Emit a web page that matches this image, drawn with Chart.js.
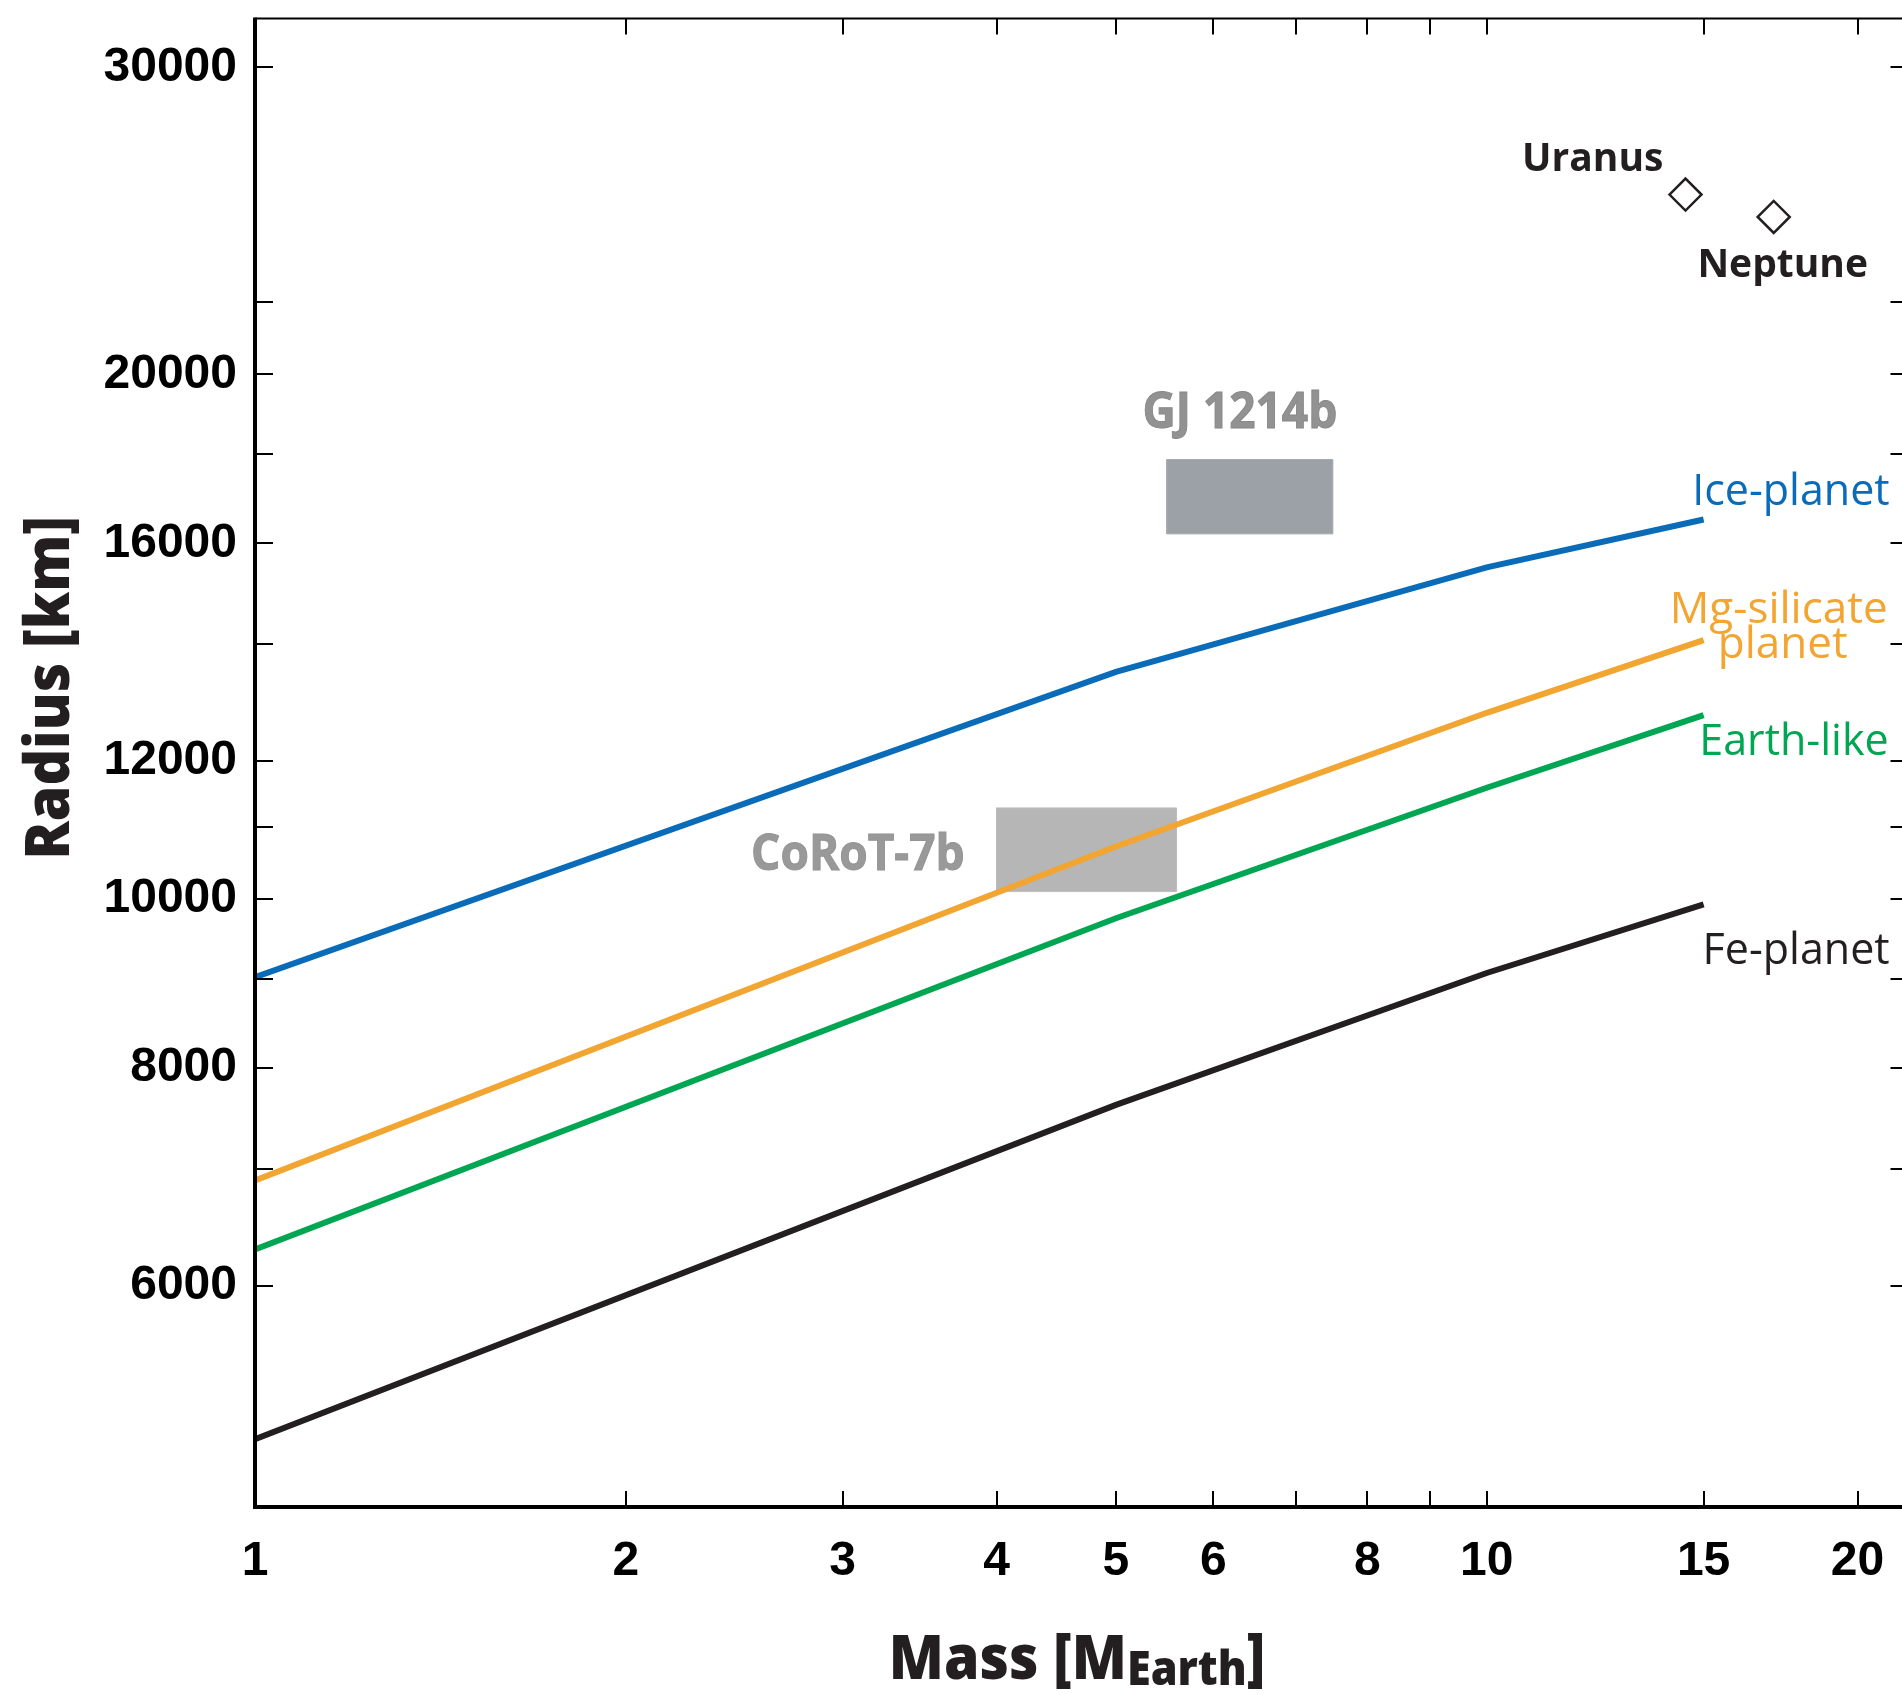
<!DOCTYPE html>
<html>
<head>
<meta charset="utf-8">
<script src="https://cdn.jsdelivr.net/npm/chart.js@4.4.1/dist/chart.umd.min.js"></script>
<style>
  html, body { margin: 0; padding: 0; background: #fff; overflow: hidden; }
  canvas { display: block; }
</style>
</head>
<body>
<canvas id="c" width="1927" height="1695"></canvas>
<script>
// Model radius (km) versus planet mass (Earth masses) for four bulk compositions
const massGrid = [1, 5, 10, 15];
const icePlanet = [9020, 13500, 15500, 16510];
const mgSilicatePlanet = [6895, 10720, 12790, 14080];
const earthLike = [6295, 9750, 11585, 12750];
const fePlanet = [4900, 7620, 9070, 9930];

// Observed exoplanets: mass range and radius range
const corot7bMass = [4.0, 5.6];
const corot7bRadius = [10100, 11280];
const gj1214bMass = [5.5, 7.5];
const gj1214bRadius = [16200, 17870];

// Solar-system ice giants
const giantNames = ['Uranus', 'Neptune'];
const giantMass = [14.5, 17.1];
const giantRadius = [25360, 24620];

// Axis ticks
const massTicks = [1, 2, 3, 4, 5, 6, 7, 8, 9, 10, 15, 20];
const massTickLabels = [1, 2, 3, 4, 5, 6, 8, 10, 15, 20];
const radiusTicks = [6000, 7000, 8000, 9000, 10000, 11000, 12000, 14000, 16000, 18000, 20000, 22000, 30000];
const radiusTickLabels = [6000, 8000, 10000, 12000, 16000, 20000, 30000];

const INK = '#231f20';
const COLORS = { ice: '#0a6bb8', mg: '#f2a531', earth: '#00a652', fe: INK };

const curve = (ys) => massGrid.map((m, i) => ({ x: m, y: ys[i] }));
const box = (mx, ry) => [
  { x: mx[0], y: ry[0] }, { x: mx[1], y: ry[0] },
  { x: mx[1], y: ry[1] }, { x: mx[0], y: ry[1] }, { x: mx[0], y: ry[0] }
];

// Draws text squeezed horizontally by factor sx
function squeezed(ctx, text, x, y, sx, align, stroke) {
  const w = ctx.measureText(text).width * sx;
  let left = x;
  if (align === 'center') left = x - w / 2;
  else if (align === 'right') left = x - w;
  ctx.save();
  ctx.translate(left, y);
  ctx.scale(sx, 1);
  ctx.textAlign = 'left';
  ctx.fillText(text, 0, 0);
  if (stroke) ctx.strokeText(text, 0, 0);
  ctx.restore();
  return w;
}

// Frame with inward-pointing tick marks on all four sides
const framePlugin = {
  id: 'frame',
  afterDatasetsDraw(chart) {
    const { ctx, chartArea: a, scales: { x, y } } = chart;
    ctx.save();
    ctx.strokeStyle = '#000';
    ctx.lineCap = 'butt';
    ctx.lineWidth = 2;
    ctx.beginPath();
    radiusTicks.forEach(v => {
      const py = Math.round(y.getPixelForValue(v));
      ctx.moveTo(a.left, py); ctx.lineTo(a.left + 18, py);
      ctx.moveTo(a.right, py); ctx.lineTo(a.right - 18, py);
    });
    massTicks.forEach(v => {
      const px = Math.round(x.getPixelForValue(v));
      ctx.moveTo(px, a.bottom); ctx.lineTo(px, a.bottom - 16);
      ctx.moveTo(px, a.top); ctx.lineTo(px, a.top + 16);
    });
    ctx.stroke();
    // top and right edges
    ctx.lineWidth = 2;
    ctx.beginPath();
    ctx.moveTo(a.left, a.top); ctx.lineTo(a.right, a.top); ctx.lineTo(a.right, a.bottom);
    ctx.stroke();
    // left and bottom axes
    ctx.lineWidth = 4;
    ctx.beginPath();
    ctx.moveTo(a.left, a.top - 1); ctx.lineTo(a.left, a.bottom); ctx.lineTo(a.right, a.bottom);
    ctx.stroke();
    ctx.restore();
  }
};

// Curve names, exoplanet names, planet names and axis titles
const labelPlugin = {
  id: 'labels',
  afterDraw(chart) {
    const { ctx, scales: { x, y } } = chart;
    const last = massGrid.length - 1;
    const ex = x.getPixelForValue(massGrid[last]);
    ctx.save();
    ctx.textBaseline = 'alphabetic';

    // composition curve names
    ctx.font = '43px "Open Sans"';
    ctx.textAlign = 'right';
    ctx.fillStyle = COLORS.ice;
    ctx.fillText('Ice-planet', ex + 186, y.getPixelForValue(icePlanet[last]) - 15);
    ctx.fillStyle = COLORS.mg;
    ctx.font = '44px "Open Sans"';
    const mgW = ctx.measureText('Mg-silicate').width;
    const mgC = ex + 184 - mgW / 2;
    const mgY = y.getPixelForValue(mgSilicatePlanet[last]);
    ctx.textAlign = 'center';
    ctx.fillText('Mg-silicate', mgC, mgY - 17);
    ctx.fillText('planet', mgC + 4, mgY + 18);
    ctx.font = '43px "Open Sans"';
    ctx.textAlign = 'right';
    ctx.fillStyle = COLORS.earth;
    ctx.fillText('Earth-like', ex + 185, y.getPixelForValue(earthLike[last]) + 40);
    ctx.fillStyle = COLORS.fe;
    ctx.fillText('Fe-planet', ex + 186, y.getPixelForValue(fePlanet[last]) + 60);

    // exoplanet names
    ctx.font = '700 50px "Open Sans"';
    ctx.lineWidth = 1;
    ctx.fillStyle = '#929292';
    ctx.strokeStyle = '#888888';
    const gjC = (x.getPixelForValue(gj1214bMass[0]) + x.getPixelForValue(gj1214bMass[1])) / 2 - 10;
    squeezed(ctx, 'GJ 1214b', gjC, y.getPixelForValue(gj1214bRadius[1]) - 32, 0.92, 'center', true);
    ctx.fillStyle = '#999999';
    ctx.strokeStyle = '#939393';
    squeezed(ctx, 'CoRoT-7b', x.getPixelForValue(corot7bMass[0]) - 32, y.getPixelForValue(corot7bRadius[0]) - 22, 0.92, 'right', true);

    // ice giant names
    ctx.font = '700 39px "Open Sans"';
    ctx.fillStyle = INK;
    ctx.textAlign = 'right';
    ctx.fillText(giantNames[0], x.getPixelForValue(giantMass[0]) - 22, y.getPixelForValue(giantRadius[0]) - 24);
    ctx.textAlign = 'center';
    ctx.fillText(giantNames[1], x.getPixelForValue(giantMass[1]) + 9, y.getPixelForValue(giantRadius[1]) + 60);

    // y-axis title
    ctx.font = '800 62px "Open Sans"';
    ctx.save();
    ctx.translate(69, 688);
    ctx.rotate(-Math.PI / 2);
    squeezed(ctx, 'Radius [km]', 0, 0, 0.92, 'center');
    ctx.restore();

    // x-axis title with subscript
    const sx = 0.92;
    const mainFont = '800 62px "Open Sans"';
    const subFont = '800 47px "Open Sans"';
    ctx.font = mainFont;
    const w1 = ctx.measureText('Mass [M').width;
    const w3 = ctx.measureText(']').width;
    ctx.font = subFont;
    const w2 = ctx.measureText('Earth').width;
    const total = (w1 + w2 + w3) * sx;
    ctx.translate(1077 - total / 2, 1679);
    ctx.scale(sx, 1);
    ctx.textAlign = 'left';
    ctx.font = mainFont;
    ctx.fillText('Mass [M', 0, 0);
    ctx.font = subFont;
    ctx.fillText('Earth', w1, 6);
    ctx.font = mainFont;
    ctx.fillText(']', w1 + w2, 0);
    ctx.restore();
  }
};

function draw() {
  new Chart(document.getElementById('c'), {
    type: 'scatter',
    data: {
      datasets: [
        { type: 'line', data: box(corot7bMass, corot7bRadius), fill: 'shape',
          backgroundColor: '#b6b6b6', borderColor: '#bdbdbd', borderWidth: 1,
          pointRadius: 0, tension: 0, order: 10 },
        { type: 'line', data: box(gj1214bMass, gj1214bRadius), fill: 'shape',
          backgroundColor: '#9ba1a7', borderColor: '#a2a7ac', borderWidth: 1,
          pointRadius: 0, tension: 0, order: 10 },
        { type: 'line', data: curve(icePlanet), borderColor: COLORS.ice, borderWidth: 6,
          pointRadius: 0, tension: 0, fill: false, order: 5 },
        { type: 'line', data: curve(mgSilicatePlanet), borderColor: COLORS.mg, borderWidth: 6,
          pointRadius: 0, tension: 0, fill: false, order: 5 },
        { type: 'line', data: curve(earthLike), borderColor: COLORS.earth, borderWidth: 6,
          pointRadius: 0, tension: 0, fill: false, order: 5 },
        { type: 'line', data: curve(fePlanet), borderColor: COLORS.fe, borderWidth: 6,
          pointRadius: 0, tension: 0, fill: false, order: 5 },
        { data: giantMass.map((m, i) => ({ x: m, y: giantRadius[i] })),
          pointStyle: 'rectRot', pointRadius: 16, borderWidth: 2.5,
          borderColor: INK, backgroundColor: 'rgba(255,255,255,0)', order: 1 }
      ]
    },
    options: {
      responsive: false,
      animation: false,
      devicePixelRatio: 1,
      layout: { padding: { top: 17, right: 4, left: 0, bottom: 0 } },
      plugins: { legend: { display: false }, tooltip: { enabled: false } },
      scales: {
        x: {
          type: 'logarithmic', min: 1, max: 22,
          grid: { display: false, drawTicks: false },
          border: { display: false },
          afterFit: (s) => { s.height = 188; s.paddingLeft = 0; s.paddingRight = 0; },
          afterBuildTicks: (s) => { s.ticks = massTicks.map(v => ({ value: v })); },
          ticks: {
            autoSkip: false, maxRotation: 0, minRotation: 0, padding: 26,
            color: '#000', font: { family: '"Liberation Sans", Arial, sans-serif', weight: 'bold', size: 48 },
            callback: (v) => massTickLabels.includes(v) ? String(v) : ''
          }
        },
        y: {
          type: 'logarithmic', min: 4480, max: 32000,
          grid: { display: false, drawTicks: false },
          border: { display: false },
          afterFit: (s) => { s.width = 255; s.paddingTop = 0; s.paddingBottom = 0; },
          afterBuildTicks: (s) => { s.ticks = radiusTicks.map(v => ({ value: v })); },
          ticks: {
            autoSkip: false, padding: 18,
            color: '#000', font: { family: '"Liberation Sans", Arial, sans-serif', weight: 'bold', size: 48 },
            callback: (v) => radiusTickLabels.includes(v) ? String(v) : ''
          }
        }
      }
    },
    plugins: [framePlugin, labelPlugin]
  });
}

Promise.all([
  document.fonts.load('43px "Open Sans"'),
  document.fonts.load('700 50px "Open Sans"'),
  document.fonts.load('800 62px "Open Sans"'),
  document.fonts.load('bold 48px "Liberation Sans"')
]).then(draw, draw);
</script>
</body>
</html>
